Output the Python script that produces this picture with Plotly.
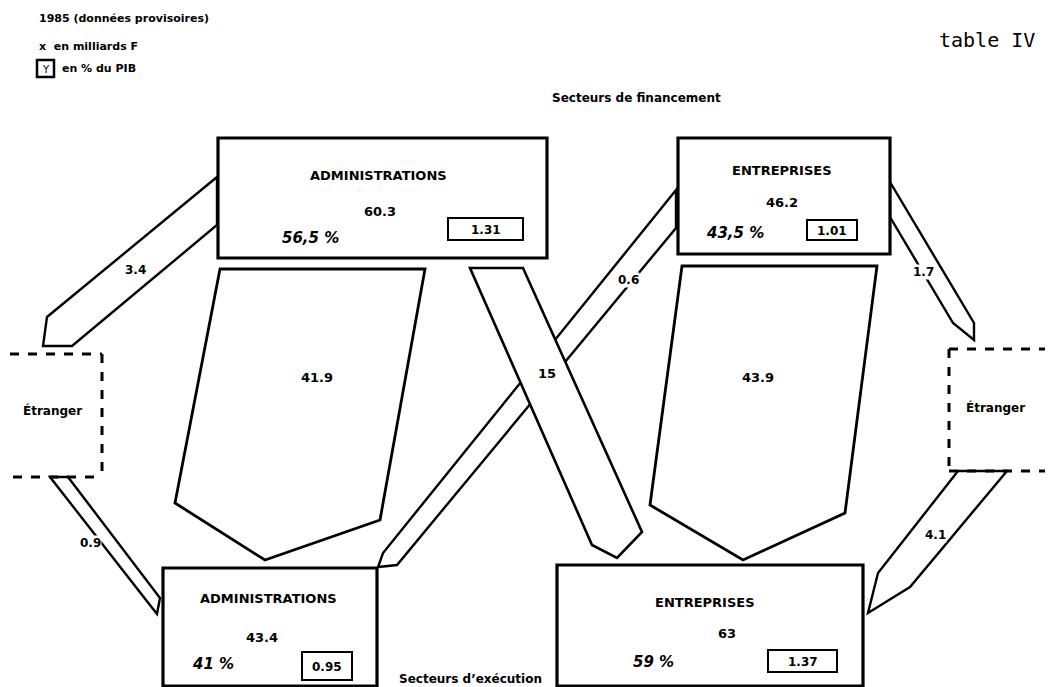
import plotly.graph_objects as go

# ---------------- data ----------------
sectors = ["ADMINISTRATIONS", "ENTREPRISES"]
financing_total = [60.3, 46.2]          # milliards F
financing_share = ["56,5 %", "43,5 %"]
financing_pib = [1.31, 1.01]            # % du PIB
execution_total = [43.4, 63]
execution_share = ["41 %", "59 %"]
execution_pib = [0.95, 1.37]
foreign_label = "Étranger"
# flows: admin->foreign, admin->admin, admin->entr, entr->admin, entr->entr,
#        entr->foreign, foreign->admin, foreign->entr
flow_values = [3.4, 41.9, 15, 0.6, 43.9, 1.7, 0.9, 4.1]

title_lines = ["1985 (données provisoires)", "x  en milliards F", "en % du PIB"]
corner_title = "table IV"
top_caption = "Secteurs de financement"
bottom_caption = "Secteurs d\u2019exécution"

# ---------------- layout geometry (pixels) ----------------
W, H = 1052, 687
fin_boxes = [(218, 138, 547, 258), (678, 138, 890, 254)]
exe_boxes = [(163, 568, 377, 686), (557, 565, 863, 686)]
fin_pib_boxes = [(448, 218, 523, 240), (807, 220, 857, 240)]
exe_pib_boxes = [(302, 652, 352, 680), (768, 650, 837, 672)]

flow_polys = [
    [(217, 177), (47, 317), (43, 346), (72, 346), (217, 225)],               # 3.4
    [(220, 269), (425, 269), (380, 520), (265, 560), (175, 503)],            # 41.9
    [(470, 268), (523, 268), (642, 532), (617, 558), (592, 545)],            # 15
    [(676, 190), (383, 553), (378, 567), (397, 565), (676, 228)],            # 0.6
    [(682, 266), (877, 266), (845, 513), (743, 560), (650, 505)],            # 43.9
    [(890, 182), (974, 323), (974, 340), (953, 323), (890, 217)],            # 1.7
    [(50, 477), (146, 600), (157, 614), (160, 598), (68, 477)],              # 0.9
    [(958, 471), (878, 573), (868, 613), (910, 587), (1007, 471)],           # 4.1
]
flow_widths = [2.4, 2.8, 2.6, 2.4, 2.8, 2.4, 2.4, 2.4]
flow_label_pos = [(135, 270), (317, 377), (547, 373), (628, 280),
                  (758, 377), (923, 272), (90, 543), (935, 535)]
flow_label_bg = [False, False, False, True, False, True, True, True]
# draw order: 0.6 below the 15 band
draw_order = [0, 1, 3, 2, 4, 5, 6, 7]

FONT = "DejaVu Sans"
fig = go.Figure()
fig.add_trace(go.Scatter(x=[0, W], y=[0, H], mode="markers",
                         marker=dict(opacity=0), hoverinfo="skip", showlegend=False))

shapes = []
annotations = []


def path_of(pts):
    return "M " + " L ".join(f"{x},{y}" for x, y in pts) + " Z"


def text(x, y, s, size=12, anchor="center", bg=None, family=FONT, bold=True, italic=False):
    t = s
    if bold:
        t = f"<b>{t}</b>"
    if italic:
        t = f"<i>{t}</i>"
    a = dict(x=x, y=y, xref="x", yref="y", text=t, showarrow=False,
             xanchor=anchor, yanchor="middle",
             font=dict(family=family, size=size, color="black"))
    if bg:
        a.update(bgcolor=bg, borderpad=0)
    annotations.append(a)


# flows
for i in draw_order:
    shapes.append(dict(type="path", path=path_of(flow_polys[i]), xref="x", yref="y",
                       fillcolor="white", line=dict(color="black", width=flow_widths[i])))
for i, v in enumerate(flow_values):
    x, y = flow_label_pos[i]
    size = 13 if v > 10 else 12
    text(x, y, f"{v:g}", size=size, bg="white" if flow_label_bg[i] else None)

# sector boxes
for k in range(2):
    x0, y0, x1, y1 = fin_boxes[k]
    shapes.append(dict(type="rect", x0=x0, y0=y0, x1=x1, y1=y1, xref="x", yref="y",
                       fillcolor="white", line=dict(color="black", width=3.2)))
    x0, y0, x1, y1 = exe_boxes[k]
    shapes.append(dict(type="rect", x0=x0, y0=y0, x1=x1, y1=y1, xref="x", yref="y",
                       fillcolor="white", line=dict(color="black", width=3.2)))
    for b in (fin_pib_boxes[k], exe_pib_boxes[k]):
        shapes.append(dict(type="rect", x0=b[0], y0=b[1], x1=b[2], y1=b[3], xref="x", yref="y",
                           fillcolor="white", line=dict(color="black", width=2)))

fin_name_pos = [(378, 175), (782, 170)]
fin_total_pos = [(380, 211), (782, 202)]
fin_share_pos = [(310, 238), (735, 233)]
exe_name_pos = [(268, 598), (705, 602)]
exe_total_pos = [(262, 637), (727, 633)]
exe_share_pos = [(213, 664), (653, 662)]

for k in range(2):
    text(*fin_name_pos[k], sectors[k], size=13)
    text(*fin_total_pos[k], f"{financing_total[k]:g}", size=13)
    text(*fin_share_pos[k], financing_share[k], size=15, italic=True)
    b = fin_pib_boxes[k]
    text((b[0] + b[2]) / 2, (b[1] + b[3]) / 2 + 1, f"{financing_pib[k]:.2f}", size=12)
    text(*exe_name_pos[k], sectors[k], size=13)
    text(*exe_total_pos[k], f"{execution_total[k]:g}", size=13)
    text(*exe_share_pos[k], execution_share[k], size=15, italic=True)
    b = exe_pib_boxes[k]
    text((b[0] + b[2]) / 2, (b[1] + b[3]) / 2 + 1, f"{execution_pib[k]:.2f}", size=12)

# foreign dashed boxes (open on outer side)
dash = dict(color="black", width=3, dash="dash")
for seg in [(10, 354, 102, 354), (102, 354, 102, 477), (13, 477, 102, 477),
            (949, 349, 1045, 349), (949, 349, 949, 471), (949, 471, 1045, 471)]:
    shapes.append(dict(type="line", x0=seg[0], y0=seg[1], x1=seg[2], y1=seg[3],
                       xref="x", yref="y", line=dash))
text(52, 410, foreign_label, size=12)
text(995, 407, foreign_label, size=12)

# titles
text(37, 18, title_lines[0], size=11, anchor="left")
text(37, 46, title_lines[1], size=11, anchor="left")
shapes.append(dict(type="rect", x0=37, y0=60, x1=54, y1=77, xref="x", yref="y",
                   line=dict(color="black", width=2.5)))
text(45.5, 69, "Y", size=10, bold=False)
text(60, 68, title_lines[2], size=11, anchor="left")
text(987, 40, corner_title, size=20, family="DejaVu Sans Mono", bold=False)
text(636, 98, top_caption, size=12)
text(470, 679, bottom_caption, size=12)

fig.update_layout(
    width=W, height=H, autosize=False,
    margin=dict(l=0, r=0, t=0, b=0),
    paper_bgcolor="white", plot_bgcolor="white",
    xaxis=dict(range=[0, W], visible=False, fixedrange=True),
    yaxis=dict(range=[H, 0], visible=False, fixedrange=True),
    shapes=shapes, annotations=annotations, showlegend=False,
)
fig.write_html("out.html", config={"displayModeBar": False, "staticPlot": True},
               post_script="document.body.style.margin='0px';document.body.style.overflow='hidden';")
